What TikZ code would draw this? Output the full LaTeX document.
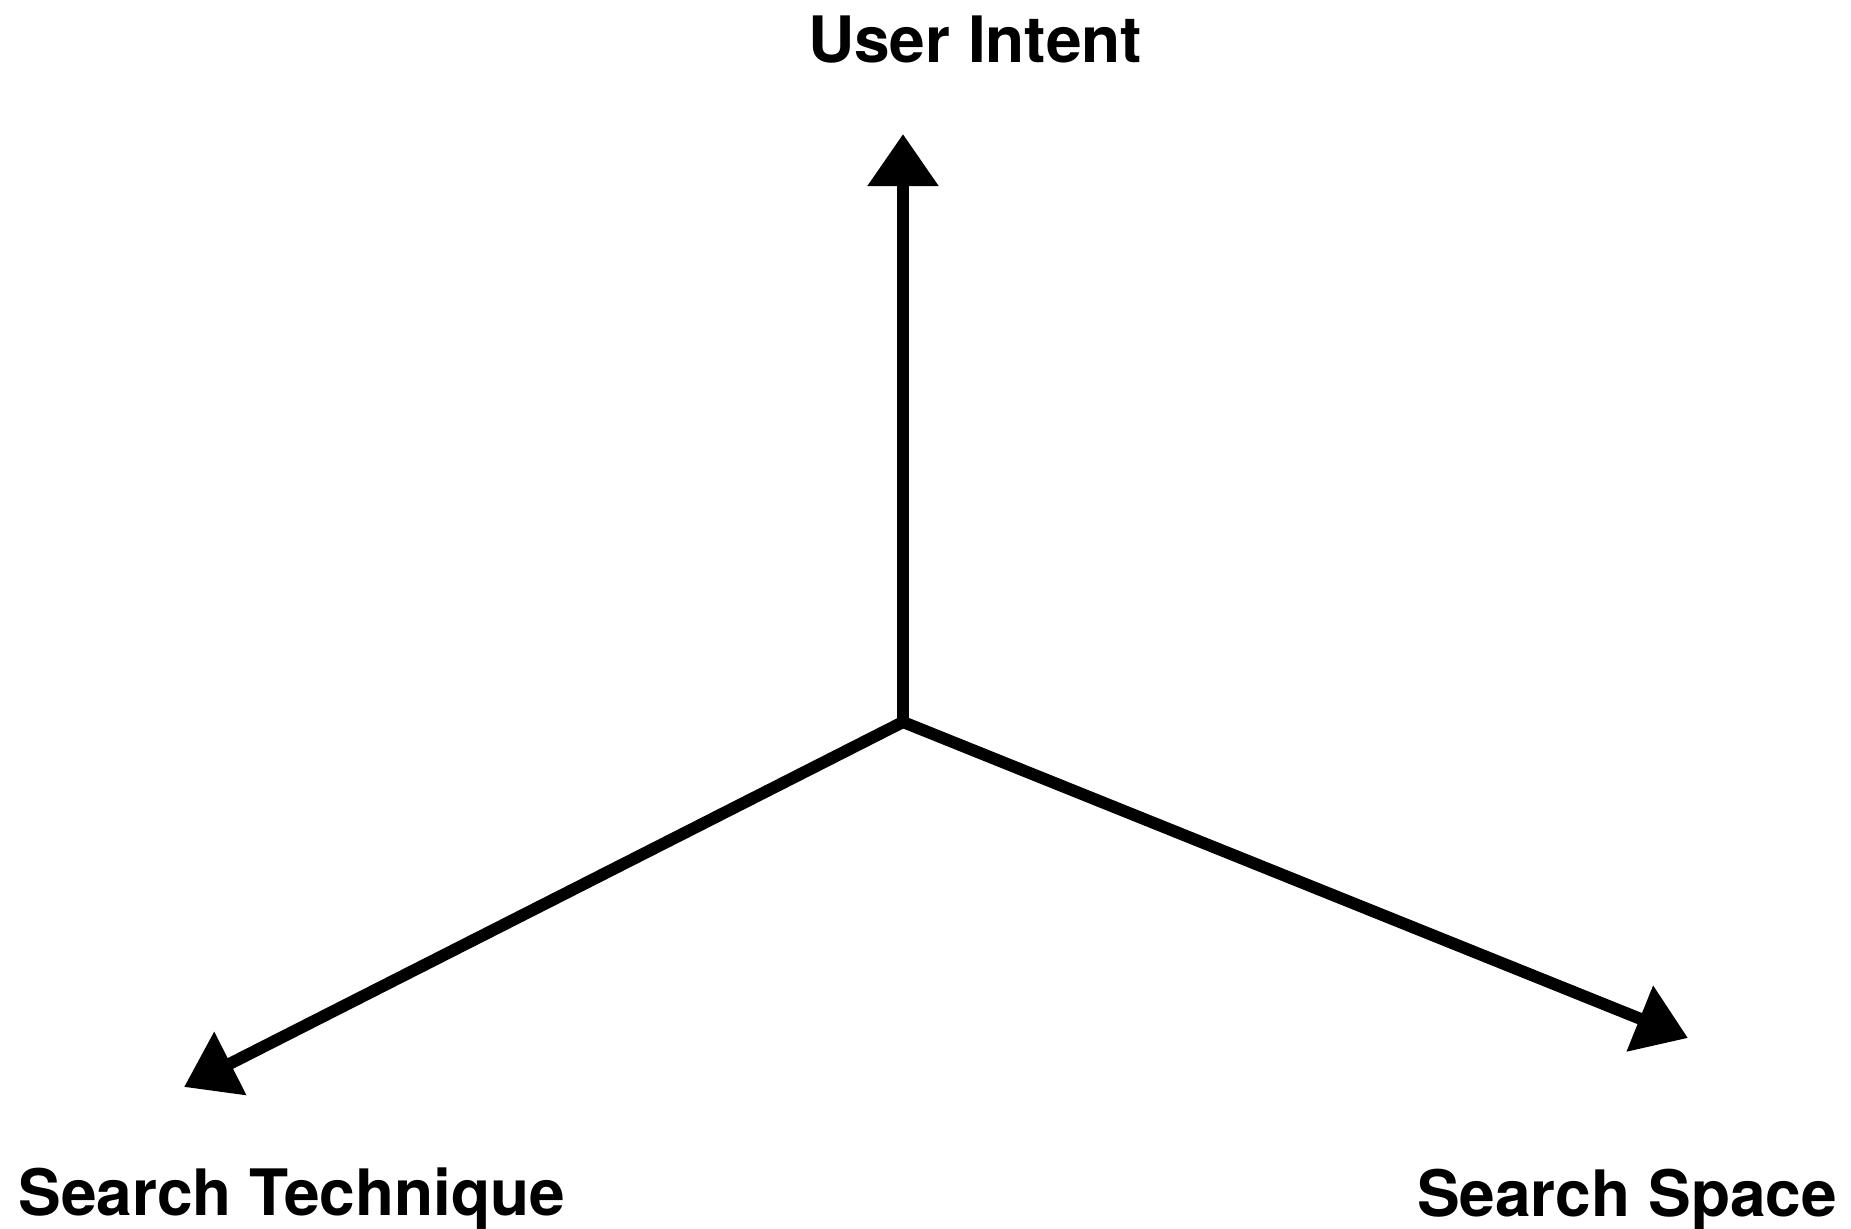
\documentclass[tikz,border=0pt]{standalone}
\usepackage{fontspec}
\setmainfont{TeX Gyre Heros}
\usetikzlibrary{arrows.meta}
\tikzset{
  axis/.style={line width=12pt, line cap=round, line join=round,
    -{Triangle[width=68pt,length=52pt]}},
  axislabel/.style={anchor=base, font=\fontsize{64}{72}\selectfont\bfseries, inner sep=0pt}
}
\begin{document}
\begin{tikzpicture}[x=1pt,y=-1pt]
  \useasboundingbox (0,0) rectangle (1851,1228);
  % origin and the three axis ends
  \coordinate (O) at (903,722);
  \coordinate (up) at (903,134);
  \coordinate (left) at (184,1087);
  \coordinate (right) at (1688,1038);
  % axes
  \draw[axis] (O) -- (up);
  \draw[axis] (O) -- (left);
  \draw[axis] (O) -- (right);
  % labels
  \node[axislabel] (intent) at (975,63) {User Intent};
  \node[axislabel] (technique) at (292,1215) {Search Technique};
  \node[axislabel] (space) at (1627,1216) {Search Space};
\end{tikzpicture}
\end{document}
